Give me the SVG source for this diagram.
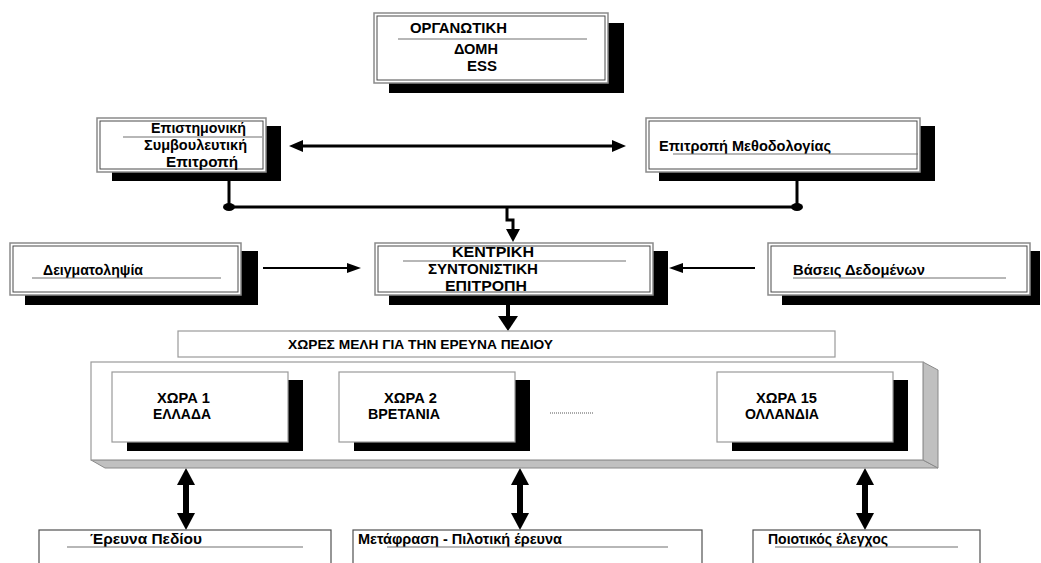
<svg xmlns="http://www.w3.org/2000/svg" width="1041" height="563" viewBox="0 0 1041 563">
<style>
text{font-family:"Liberation Sans",Arial,sans-serif;font-weight:bold;font-size:14px;fill:#000}
.big{font-size:14.5px}
.sm{font-size:12.5px}
.sh{fill:#000}
.fo{fill:#fff;stroke:#8a8a8a;stroke-width:1.5}
.fi{fill:none;stroke:#4a4a4a;stroke-width:1}
.ul{stroke:#707070;stroke-width:1.2}
.box{fill:#fff;stroke:#9a9a9a;stroke-width:1.2}
.bb{fill:#fff;stroke:#505050;stroke-width:1.2}
.thick{stroke:#000;stroke-width:3;fill:none}
.ah{fill:#000}
</style>
<rect width="1041" height="563" fill="#fff"/>

<g id="connectors">
  <line class="thick" x1="302" y1="146" x2="612" y2="146"/>
  <polygon class="ah" points="289,146 303,140 303,152"/>
  <polygon class="ah" points="626,146 612,140 612,152"/>
  <line class="thick" x1="229" y1="172" x2="229" y2="207"/>
  <line class="thick" x1="797" y1="172" x2="797" y2="207"/>
  <line class="thick" x1="229" y1="207" x2="797" y2="207"/>
  <ellipse class="ah" cx="229" cy="172" rx="6" ry="4"/>
  <ellipse class="ah" cx="797" cy="172" rx="6" ry="4"/>
  <ellipse class="ah" cx="229" cy="207" rx="6" ry="4"/>
  <ellipse class="ah" cx="797" cy="207" rx="6" ry="4"/>
  <path class="thick" d="M507,207 V220 H513 V230"/>
  <polygon class="ah" points="506,229 520,229 513,242"/>
  <line x1="263" y1="268" x2="349" y2="268" stroke="#000" stroke-width="2"/>
  <polygon class="ah" points="347,263 361,268 347,273"/>
  <line x1="755" y1="268" x2="681" y2="268" stroke="#000" stroke-width="2"/>
  <polygon class="ah" points="683,263 669,268 683,273"/>
  <line x1="508" y1="305" x2="508" y2="317" stroke="#000" stroke-width="4"/>
  <polygon class="ah" points="498,316 518,316 508,331"/>
  <line x1="186" y1="484" x2="186" y2="514" stroke="#000" stroke-width="6"/>
  <polygon class="ah" points="186,468 177,485 195,485"/>
  <polygon class="ah" points="186,530 177,513 195,513"/>
  <line x1="520" y1="484" x2="520" y2="514" stroke="#000" stroke-width="6"/>
  <polygon class="ah" points="520,468 511,485 529,485"/>
  <polygon class="ah" points="520,530 511,513 529,513"/>
  <line x1="865" y1="484" x2="865" y2="514" stroke="#000" stroke-width="6"/>
  <polygon class="ah" points="865,468 856,485 874,485"/>
  <polygon class="ah" points="865,530 856,513 874,513"/>
</g>

<g id="node-organotiki">
  <rect class="sh" x="389" y="23" width="235" height="70"/>
  <rect class="fo" x="374" y="13" width="234" height="70"/>
  <rect class="fi" x="377" y="16" width="228" height="64"/>
  <text class="big" x="410" y="33" textLength="97" lengthAdjust="spacingAndGlyphs">ΟΡΓΑΝΩΤΙΚΗ</text>
  <line class="ul" x1="398" y1="39" x2="587" y2="39"/>
  <text class="big" x="454" y="54" textLength="44" lengthAdjust="spacingAndGlyphs">ΔΟΜΗ</text>
  <text class="big" x="467" y="71" textLength="30" lengthAdjust="spacingAndGlyphs">ESS</text>
</g>

<g id="node-epistimoniki">
  <rect class="sh" x="112" y="126" width="169" height="55"/>
  <rect class="fo" x="97" y="118" width="169" height="54"/>
  <rect class="fi" x="100" y="121" width="163" height="48"/>
  <text x="151" y="133" textLength="95" lengthAdjust="spacingAndGlyphs">Επιστημονική</text>
  <line class="ul" x1="123" y1="137" x2="262" y2="137"/>
  <text x="144" y="150" textLength="103" lengthAdjust="spacingAndGlyphs">Συμβουλευτική</text>
  <text x="166" y="167" textLength="72" lengthAdjust="spacingAndGlyphs">Επιτροπή</text>
</g>

<g id="node-methodologias">
  <rect class="sh" x="659" y="126" width="276" height="55"/>
  <rect class="fo" x="646" y="118" width="274" height="54"/>
  <rect class="fi" x="649" y="121" width="268" height="48"/>
  <text x="659" y="151" textLength="172" lengthAdjust="spacingAndGlyphs">Επιτροπή Μεθοδολογίας</text>
  <line class="ul" x1="673" y1="154" x2="918" y2="154"/>
</g>

<g id="node-deigmatolipsia">
  <rect class="sh" x="25" y="251" width="233" height="54"/>
  <rect class="fo" x="10" y="243" width="231" height="52"/>
  <rect class="fi" x="13" y="246" width="225" height="46"/>
  <text x="43" y="275" textLength="100" lengthAdjust="spacingAndGlyphs">Δειγματοληψία</text>
  <line class="ul" x1="32" y1="278" x2="221" y2="278"/>
</g>

<g id="node-kentriki">
  <rect class="sh" x="389" y="251" width="279" height="54"/>
  <rect class="fo" x="375" y="243" width="278" height="52"/>
  <rect class="fi" x="378" y="246" width="272" height="46"/>
  <text x="452" y="257" textLength="82" lengthAdjust="spacingAndGlyphs">ΚΕΝΤΡΙΚΗ</text>
  <line class="ul" x1="403" y1="261" x2="626" y2="261"/>
  <text x="428" y="274" textLength="110" lengthAdjust="spacingAndGlyphs">ΣΥΝΤΟΝΙΣΤΙΚΗ</text>
  <text x="445" y="291" textLength="82" lengthAdjust="spacingAndGlyphs">ΕΠΙΤΡΟΠΗ</text>
</g>

<g id="node-vaseis">
  <rect class="sh" x="782" y="251" width="258" height="54"/>
  <rect class="fo" x="768" y="243" width="262" height="52"/>
  <rect class="fi" x="771" y="246" width="256" height="46"/>
  <text x="793" y="275" textLength="132" lengthAdjust="spacingAndGlyphs">Βάσεις Δεδομένων</text>
  <line class="ul" x1="793" y1="278" x2="1006" y2="278"/>
</g>

<g id="node-xores-meli">
  <rect class="box" x="178" y="331" width="657" height="26"/>
  <text class="sm" x="288" y="349" textLength="265" lengthAdjust="spacingAndGlyphs">ΧΩΡΕΣ ΜΕΛΗ ΓΙΑ ΤΗΝ ΕΡΕΥΝΑ ΠΕΔΙΟΥ</text>
</g>

<g id="node-container">
  <polygon points="91,460 923,460 938,468 105,468" fill="#c0c0c0" stroke="#8a8a8a" stroke-width="1"/>
  <polygon points="923,362 938,370 938,468 923,460" fill="#c0c0c0" stroke="#8a8a8a" stroke-width="1"/>
  <rect x="91" y="362" width="832" height="98" fill="#fff" stroke="#9a9a9a" stroke-width="1.2"/>
  <line x1="550" y1="413" x2="593" y2="413" stroke="#555" stroke-width="1" stroke-dasharray="1,1"/>
</g>

<g id="node-xora1">
  <rect class="sh" x="127" y="380" width="176" height="71"/>
  <rect class="box" x="112" y="372" width="176" height="70"/>
  <text x="157" y="403" textLength="53" lengthAdjust="spacingAndGlyphs">ΧΩΡΑ 1</text>
  <text x="153" y="419" textLength="58" lengthAdjust="spacingAndGlyphs">ΕΛΛΑΔΑ</text>
</g>

<g id="node-xora2">
  <rect class="sh" x="354" y="380" width="176" height="71"/>
  <rect class="box" x="339" y="372" width="176" height="70"/>
  <text x="384" y="403" textLength="53" lengthAdjust="spacingAndGlyphs">ΧΩΡΑ 2</text>
  <text x="368" y="419" textLength="72" lengthAdjust="spacingAndGlyphs">ΒΡΕΤΑΝΙΑ</text>
</g>

<g id="node-xora15">
  <rect class="sh" x="732" y="380" width="176" height="71"/>
  <rect class="box" x="717" y="372" width="176" height="70"/>
  <text x="756" y="403" textLength="61" lengthAdjust="spacingAndGlyphs">ΧΩΡΑ 15</text>
  <text x="745" y="419" textLength="74" lengthAdjust="spacingAndGlyphs">ΟΛΛΑΝΔΙΑ</text>
</g>

<g id="node-erevna">
  <rect class="bb" x="39" y="530" width="292" height="60"/>
  <text x="90" y="544" textLength="112" lengthAdjust="spacingAndGlyphs">Έρευνα Πεδίου</text>
  <line class="ul" x1="67" y1="547" x2="303" y2="547"/>
</g>

<g id="node-metafrasi">
  <rect class="bb" x="353" y="530" width="349" height="60"/>
  <text x="358" y="544" textLength="204" lengthAdjust="spacingAndGlyphs">Μετάφραση - Πιλοτική έρευνα</text>
  <line class="ul" x1="387" y1="547" x2="668" y2="547"/>
</g>

<g id="node-poiotikos">
  <rect class="bb" x="753" y="530" width="227" height="60"/>
  <text x="768" y="544" textLength="120" lengthAdjust="spacingAndGlyphs">Ποιοτικός έλεγχος</text>
  <line class="ul" x1="775" y1="547" x2="958" y2="547"/>
</g>
</svg>
